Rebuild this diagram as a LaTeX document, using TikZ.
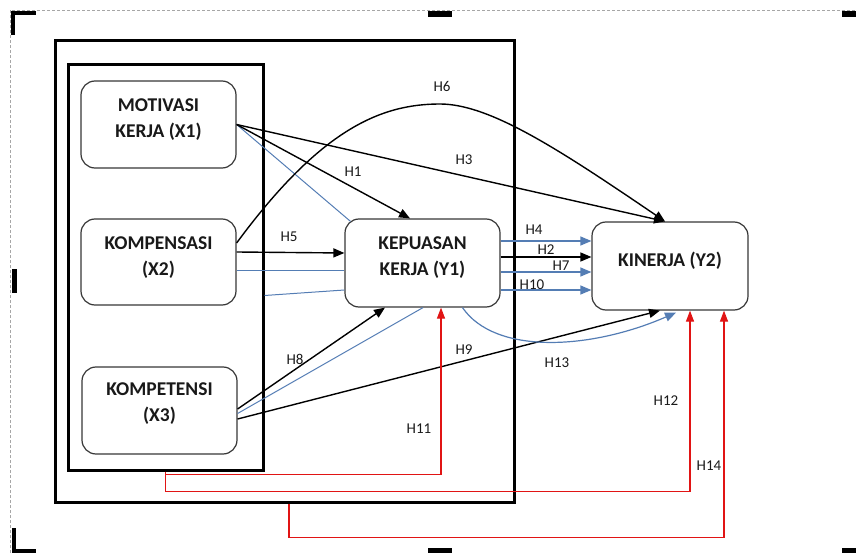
\documentclass[tikz,border=0pt]{standalone}
\usepackage{fontspec}
\setmainfont{Carlito}
\usetikzlibrary{arrows.meta}
\definecolor{lnblue}{RGB}{84,125,180}
\definecolor{lnred}{RGB}{225,20,20}
\definecolor{boxgray}{RGB}{55,55,55}
\tikzset{
  vbox/.style={draw=boxgray, line width=1.2pt, rounded corners=14pt, fill=white, inner sep=0pt},
  frame/.style={draw=black, line width=3pt, inner sep=0pt},
  vtext/.style={font=\bfseries\fontsize{19.5}{26}\selectfont, align=center, text=black!90, inner sep=0pt},
  hlab/.style={font=\fontsize{15}{18}\selectfont, text=black!90, inner sep=0pt},
  blk/.style={draw=black, line width=1.4pt, -{Triangle[length=11pt,width=9pt]}},
  blu/.style={draw=lnblue, line width=1.2pt, -{Triangle[length=11pt,width=9pt]}},
  bluline/.style={draw=lnblue, line width=1pt},
  rd/.style={draw=lnred, line width=1.2pt, -{Triangle[length=11pt,width=8pt]}},
  handle/.style={fill=black, draw=none}
}
\begin{document}
\begin{tikzpicture}[x=1pt, y=-1pt]
\useasboundingbox (0,0) rectangle (856,553);
% canvas selection border and handles
\draw[gray!70, dashed, line width=0.8pt, dash pattern=on 3pt off 2pt] (10,553) -- (10,10) -- (856,10);
\draw[black, line width=4pt] (13,35) -- (13,13) -- (36,13);
\draw[black, line width=4pt] (14,528) -- (14,551) -- (36,551);
\fill[handle] (428,11) rectangle (452,17);
\fill[handle] (842,11) rectangle (856,17);
\fill[handle] (12,269) rectangle (17,293);
\fill[handle] (428,548) rectangle (452,553);
\fill[handle] (842,548) rectangle (856,553);

% frames
\node[frame, minimum width=459pt, minimum height=461pt] (outer) at (284.5,271.5) {};
\node[frame, minimum width=195pt, minimum height=405pt] (inner) at (165.5,267.5) {};

% variable boxes
\node[vbox, minimum width=155pt, minimum height=87pt] (x1) at (158.5,124.5) {};
\node[vbox, minimum width=155pt, minimum height=86pt] (x2) at (158.5,262) {};
\node[vbox, minimum width=155pt, minimum height=87pt] (x3) at (159.5,410.5) {};
\node[vbox, minimum width=155pt, minimum height=88pt] (y1) at (422.5,263) {};
\node[vbox, minimum width=156pt, minimum height=88pt] (y2) at (670,266) {};

\node[vtext] (x1t) at (158.5,120) {MOTIVASI\\KERJA (X1)};
\node[vtext] (x2t) at (158.5,258) {KOMPENSASI\\(X2)};
\node[vtext] (x3t) at (159.5,404) {KOMPETENSI\\(X3)};
\node[vtext] (y1t) at (422.5,258) {KEPUASAN\\KERJA (Y1)};
\node[vtext] (y2t) at (670,261) {KINERJA (Y2)};

% blue plain lines
\draw[bluline] (x1.east) -- ([xshift=-72pt,yshift=-3pt]y1.north);
\draw[bluline] ([yshift=-8pt]x2.east) -- ([yshift=-7pt]y1.west);
\draw[bluline] ([yshift=-28pt]inner.east) -- ([yshift=-27pt]y1.west);
\draw[bluline] ([yshift=-3pt]x3.east) -- ([xshift=0.5pt]y1.south);

% black arrows
\draw[blk] (x1.east) -- ([xshift=-12.5pt]y1.north);
\draw[blk] (x1.east) -- ([xshift=-5pt]y2.north);
\draw[blk] ([yshift=19pt]x2.east) .. controls (320,130) and (380,104) .. (440,104)
   .. controls (490,104) and (560,150) .. ([xshift=-5pt]y2.north);
\draw[blk] ([yshift=10pt]x2.east) -- ([yshift=10pt]y1.west);
\draw[blk] ([yshift=1.5pt]x3.east) -- ([xshift=-37.5pt]y1.south);
\draw[blk] ([yshift=-8.5pt]x3.east) -- ([xshift=-10pt]y2.south);

% Y1 -> Y2
\draw[blu] ([yshift=22pt]y1.east) -- ([yshift=25pt]y2.west);
\draw[blk] ([yshift=6pt]y1.east) -- ([yshift=9pt]y2.west);
\draw[blu] ([yshift=-9pt]y1.east) -- ([yshift=-6pt]y2.west);
\draw[blu] ([yshift=-27pt]y1.east) -- ([yshift=-24pt]y2.west);
\draw[blu] ([xshift=40pt]y1.south) .. controls (495,355) and (590,350) .. ([xshift=6pt,yshift=-2pt]y2.south);

% red arrows
\draw[rd] (inner.south) -- ([yshift=-3pt]inner.south) -| ([xshift=18.5pt]y1.south);
\draw[rd] (inner.south) -- ([yshift=-20pt]inner.south) -| ([xshift=20pt]y2.south);
\draw[rd] ([xshift=4.5pt]outer.south) -- ([xshift=4.5pt,yshift=-34pt]outer.south) -| ([xshift=54pt]y2.south);

% labels
\node[hlab] (h1) at (353,172) {H1};
\node[hlab] (h2) at (546,250) {H2};
\node[hlab] (h3) at (464,160) {H3};
\node[hlab] (h4) at (534,230) {H4};
\node[hlab] (h5) at (289,237) {H5};
\node[hlab] (h6) at (442,86) {H6};
\node[hlab] (h7) at (561,266) {H7};
\node[hlab] (h8) at (295,359) {H8};
\node[hlab] (h9) at (464,350) {H9};
\node[hlab] (h10) at (532,285) {H10};
\node[hlab] (h11) at (419,429) {H11};
\node[hlab] (h12) at (666,401) {H12};
\node[hlab] (h13) at (557,363) {H13};
\node[hlab] (h14) at (709,466) {H14};
\end{tikzpicture}
\end{document}
